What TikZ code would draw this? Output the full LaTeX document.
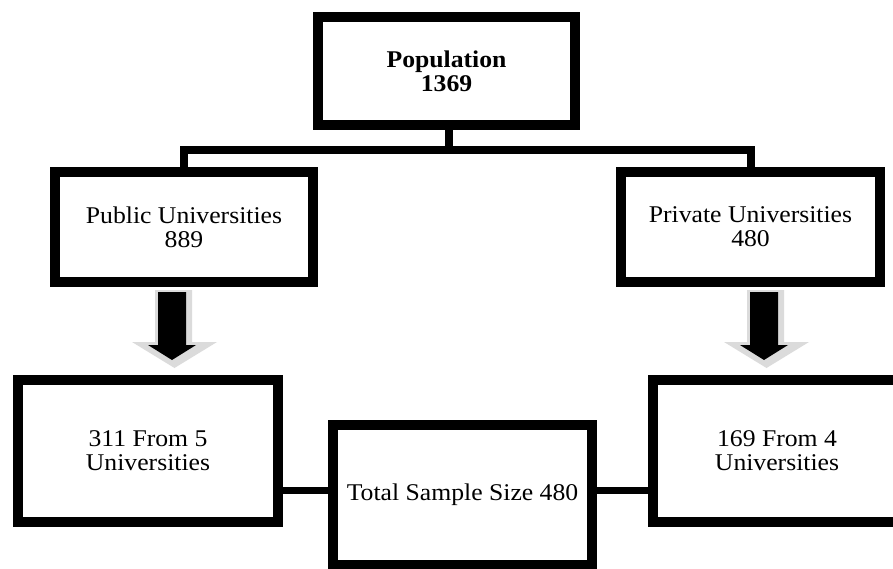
\documentclass[tikz,border=0pt]{standalone}
\usepackage{fontspec}
\setmainfont[FakeStretch=1.07]{Liberation Serif}
\begin{document}
\begin{tikzpicture}[x=1pt,y=-1pt,
  box/.style={draw=black, line width=10pt, fill=white, align=center, inner sep=0pt,
    font=\fontsize{24}{24}\selectfont},
  tree/.style={draw=black, line width=8pt},
  link/.style={draw=black, line width=7pt},
  bigarrow/.pic={
    \fill[gray!28] (-17,-2) -- (-17,50) -- (-40,50) -- (2.5,76) -- (45,50) -- (20,50) -- (20,-2) -- cycle;
    \fill[black] (-14,0) -- (-14,53) -- (-24,53) -- (0,68) -- (24,53) -- (14,53) -- (14,0) -- cycle;
  }]
\useasboundingbox (0,0) rectangle (893,568);
\clip (0,0) rectangle (893,568);

\node[box, minimum width=257pt, minimum height=108pt, font=\fontsize{24}{24}\selectfont\bfseries] (pop) at (446.5,71) {Population\\1369};
\node[box, minimum width=258pt, minimum height=110pt] (pub) at (184,227) {Public Universities\\889};
\node[box, minimum width=259pt, minimum height=110pt] (priv) at (750.5,227) {Private Universities\\480};
\node[box, minimum width=260pt, minimum height=142pt] (b1) at (148,451) {311 From 5\\Universities};
\node[box, minimum width=248pt, minimum height=142pt] (b2) at (777,451) {169 From 4\\Universities};
\node[box, minimum width=259pt, minimum height=140pt] (tot) at (462.5,495) {Total Sample Size 480};

\coordinate (hub) at (449,150);
\draw[tree] (pop.south -| hub) -- (hub);
\draw[tree] (pub.north) |- (hub) -| (priv.north);

\draw[link] (b1.east |- 0,490) -- (tot.west |- 0,490);
\draw[link] (tot.east |- 0,490) -- (b2.west |- 0,490);

\pic at (172,292) {bigarrow};
\pic at (764,292) {bigarrow};
\end{tikzpicture}
\end{document}
